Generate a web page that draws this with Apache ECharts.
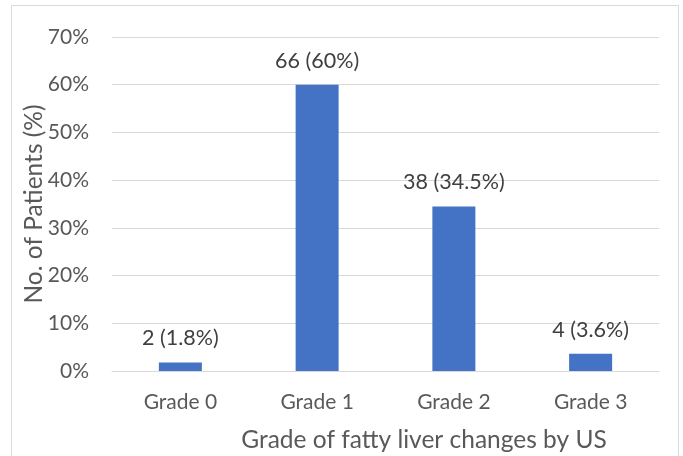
<!DOCTYPE html>
<html><head><meta charset="utf-8">
<script src="https://cdn.jsdelivr.net/npm/echarts@6/dist/echarts.min.js"></script>
<style>html,body{margin:0;padding:0;background:#fff}#c{width:683px;height:456px}</style>
</head><body><div id="c"></div>
<script>
const categories = ['Grade 0', 'Grade 1', 'Grade 2', 'Grade 3'];
const percents = [1.8, 60, 34.5, 3.6];
const dataLabels = ['2 (1.8%)', '66 (60%)', '38 (34.5%)', '4 (3.6%)'];
const yTicks = [0, 10, 20, 30, 40, 50, 60, 70];
const xTitle = 'Grade of fatty liver changes by US';
const yTitle = 'No. of Patients (%)';

const FONT = 'Lato, "Open Sans", sans-serif';
const chart = echarts.init(document.getElementById('c'), null, {renderer: 'canvas'});
chart.setOption({
  animation: false,
  grid: {left: 112, right: 24, top: 37, bottom: 85},
  xAxis: {
    type: 'category', data: categories,
    axisLine: {show: true, lineStyle: {color: '#d9d9d9', width: 1}},
    axisTick: {show: false},
    axisLabel: {color: '#595959', fontSize: 21, fontFamily: FONT, margin: 21}
  },
  yAxis: {
    type: 'value', min: yTicks[0], max: yTicks[yTicks.length - 1], interval: 10,
    axisLine: {show: false}, axisTick: {show: false},
    splitLine: {lineStyle: {color: '#d9d9d9', width: 1}},
    axisLabel: {color: '#595959', fontSize: 21, fontFamily: FONT, margin: 23, formatter: v => v + '%'}
  },
  series: [{
    type: 'bar',
    data: percents,
    barWidth: 43,
    itemStyle: {color: '#4472c4'},
    label: {
      show: true, position: 'top', distance: 13,
      color: '#404040', fontSize: 21.5, fontFamily: FONT,
      formatter: p => dataLabels[p.dataIndex]
    }
  }],
  graphic: [
    {type: 'rect', shape: {x: 11.5, y: 5.5, width: 667, height: 470}, style: {fill: 'none', stroke: '#d9d9d9', lineWidth: 1}, z: -10},
    {type: 'text', x: 424, y: 440, style: {text: xTitle, fill: '#595959', font: '24.5px ' + FONT, textAlign: 'center', textVerticalAlign: 'middle'}},
    {type: 'text', x: 34, y: 204, rotation: Math.PI / 2, style: {text: yTitle, fill: '#595959', font: '24.5px ' + FONT, textAlign: 'center', textVerticalAlign: 'middle'}}
  ]
});
</script></body></html>
